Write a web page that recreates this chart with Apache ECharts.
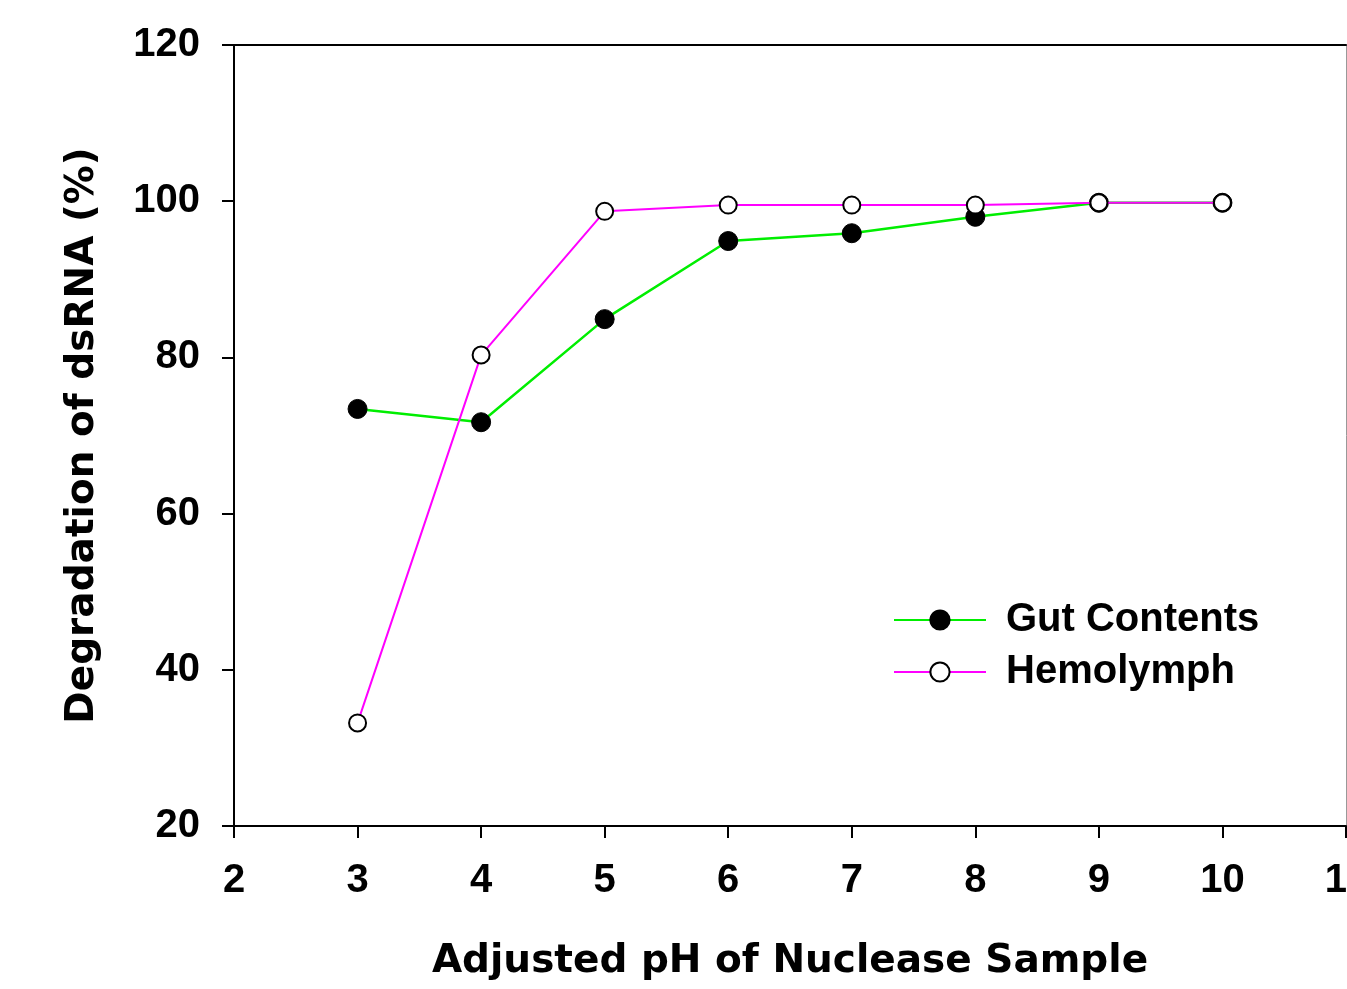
<!DOCTYPE html>
<html>
<head>
<meta charset="utf-8">
<script src="https://cdn.jsdelivr.net/npm/echarts@6/dist/echarts.min.js"></script>
<style>
  html, body { margin: 0; padding: 0; background: #fff; }
  #main { width: 1347px; height: 989px; }
</style>
</head>
<body>
<div id="main"></div>
<script>
// pH values and degradation (%)
var phValues = [3, 4, 5, 6, 7, 8, 9, 10];
var gutContents = [73.4, 71.7, 84.9, 94.9, 95.9, 98.0, 99.8, 99.8];
var hemolymph = [33.2, 80.3, 98.7, 99.5, 99.5, 99.5, 99.8, 99.8];

function pairs(xs, ys) {
  var out = [];
  for (var i = 0; i < xs.length; i++) out.push([xs[i], ys[i]]);
  return out;
}

var font = 'Liberation Sans, Arial, sans-serif';
var titleFont = 'DejaVu Sans, sans-serif';
var labelStyle = { color: '#000', fontFamily: font, fontWeight: 'bold', fontSize: 40 };

var chart = echarts.init(document.getElementById('main'));

var option = {
  backgroundColor: '#ffffff',
  animation: false,
  grid: { left: 234, right: 1, top: 45, bottom: 163, outerBoundsMode: 'none', containLabel: false },
  legend: {
    orient: 'vertical',
    left: 893,
    top: 600,
    padding: 0,
    itemWidth: 92,
    itemHeight: 24,
    itemGap: 12,
    textStyle: { color: '#000', fontFamily: font, fontWeight: 'bold', fontSize: 40, padding: [0, 0, 0, 15] },
    data: ['Gut Contents', 'Hemolymph']
  },
  xAxis: [
    {
      type: 'value',
      min: 2,
      max: 11,
      interval: 1,
      name: 'Adjusted pH of Nuclease Sample',
      nameLocation: 'middle',
      nameGap: 116,
      nameTextStyle: { color: '#000', fontFamily: titleFont, fontWeight: 'bold', fontSize: 39 },
      splitLine: { show: false },
      axisLine: { lineStyle: { color: '#000', width: 2 } },
      axisTick: { length: 12, lineStyle: { color: '#000', width: 2 } },
      axisLabel: Object.assign({ margin: 35, showMaxLabel: true, showMinLabel: true }, labelStyle)
    },
    {
      type: 'value',
      position: 'top',
      min: 2,
      max: 11,
      axisLine: { show: true, lineStyle: { color: '#000', width: 2 } },
      axisTick: { show: false },
      axisLabel: { show: false },
      splitLine: { show: false }
    }
  ],
  yAxis: [
    {
      type: 'value',
      min: 20,
      max: 120,
      interval: 20,
      name: 'Degradation of dsRNA (%)',
      nameLocation: 'middle',
      nameGap: 132,
      nameTextStyle: { color: '#000', fontFamily: titleFont, fontWeight: 'bold', fontSize: 39 },
      splitLine: { show: false },
      axisLine: { show: true, lineStyle: { color: '#000', width: 2 } },
      axisTick: { length: 12, lineStyle: { color: '#000', width: 2 } },
      axisLabel: Object.assign({ margin: 34 }, labelStyle)
    },
    {
      type: 'value',
      position: 'right',
      min: 20,
      max: 120,
      axisLine: { show: true, lineStyle: { color: '#999', width: 1 } },
      axisTick: { show: false },
      axisLabel: { show: false },
      splitLine: { show: false }
    }
  ],
  series: [
    {
      name: 'Gut Contents',
      type: 'line',
      data: pairs(phValues, gutContents),
      symbol: 'circle',
      symbolSize: 19,
      lineStyle: { color: '#00ee00', width: 2.5 },
      itemStyle: { color: '#000', borderColor: '#000', borderWidth: 1 },
      z: 3
    },
    {
      name: 'Hemolymph',
      type: 'line',
      data: pairs(phValues, hemolymph),
      symbol: 'circle',
      symbolSize: 17,
      lineStyle: { color: '#ff00ff', width: 2 },
      itemStyle: { color: '#fff', borderColor: '#000', borderWidth: 2 },
      z: 4
    }
  ]
};

chart.setOption(option);
</script>
</body>
</html>
